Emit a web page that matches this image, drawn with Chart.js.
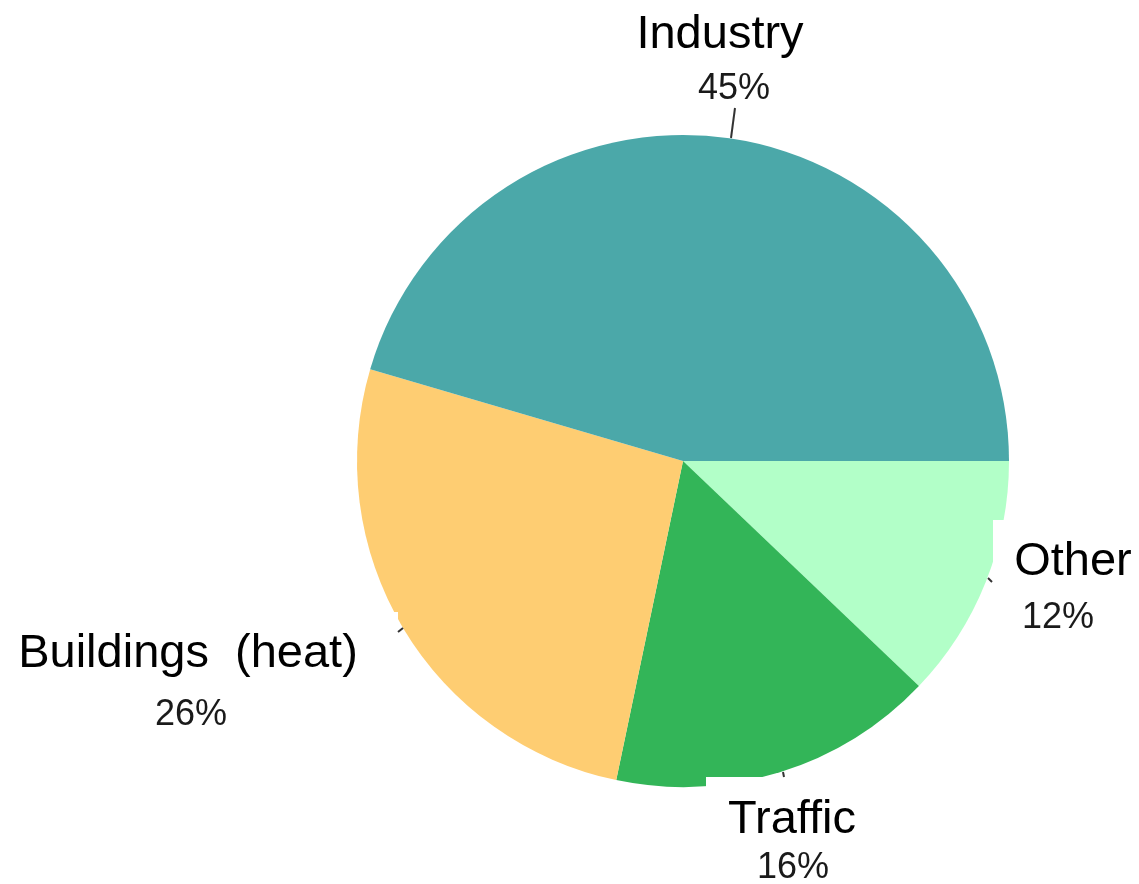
<!DOCTYPE html>
<html>
<head>
<meta charset="utf-8">
<script src="https://cdn.jsdelivr.net/npm/chart.js@4/dist/chart.umd.min.js"></script>
<style>
html,body{margin:0;padding:0;background:#fff;}
canvas{display:block;}
</style>
</head>
<body>
<canvas id="c" width="1139" height="884"></canvas>
<script>
// Data (clockwise from 3 o'clock)
const categories = ["Other", "Traffic", "Buildings  (heat)", "Industry"];
const values = [12, 16, 26, 45];
const percentLabels = ["12%", "16%", "26%", "45%"];
const colors = ["#B2FFC8", "#33B558", "#FECD72", "#4BA8A9"];

// Label layout: offsets (px) from pie centre for name and percent text
const labelLayout = [
  {name:[390, 114], pct:[375, 167]},
  {name:[109, 372], pct:[110, 417]},
  {name:[-495, 206], pct:[-492, 264]},
  {name:[37, -413], pct:[51, -362]}
];
// White patches behind some labels (as in the source image)
const patches = [
  [993, 520, 146, 75],
  [706, 777, 174, 107],
  [0, 612, 398, 70]
];
// Short leader ticks [x1,y1,x2,y2] relative to centre
const ticks = [
  [305, 117, 309, 121],
  [100, 311, 101, 316],
  [-285, 171, -280, 167],
  [52, -353, 48, -323]
];

const labelPlugin = {
  id: 'labels',
  afterDatasetsDraw(chart) {
    const ctx = chart.ctx;
    const arc = chart.getDatasetMeta(0).data[0];
    const cx = arc.x, cy = arc.y;
    ctx.save();
    ctx.fillStyle = '#fff';
    patches.forEach(p => ctx.fillRect(p[0], p[1], p[2], p[3]));
    ctx.strokeStyle = '#333';
    ctx.lineWidth = 2;
    ticks.forEach(t => {
      ctx.beginPath();
      ctx.moveTo(cx + t[0], cy + t[1]);
      ctx.lineTo(cx + t[2], cy + t[3]);
      ctx.stroke();
    });
    ctx.textAlign = 'center';
    ctx.textBaseline = 'alphabetic';
    categories.forEach((c, i) => {
      const L = labelLayout[i];
      ctx.fillStyle = '#000';
      ctx.font = '47px "Liberation Sans", Arial, sans-serif';
      ctx.fillText(c, cx + L.name[0], cy + L.name[1]);
      ctx.fillStyle = '#1a1a1a';
      ctx.font = '36px "Liberation Sans", Arial, sans-serif';
      ctx.fillText(percentLabels[i], cx + L.pct[0], cy + L.pct[1]);
    });
    ctx.restore();
  }
};

new Chart(document.getElementById('c'), {
  type: 'pie',
  data: {
    labels: categories,
    datasets: [{
      data: values,
      backgroundColor: colors,
      borderWidth: 0
    }]
  },
  options: {
    responsive: false,
    devicePixelRatio: 1,
    animation: false,
    rotation: 90,
    layout: { padding: { top: 135, bottom: 97, left: 357, right: 130 } },
    plugins: { legend: { display: false }, tooltip: { enabled: false } }
  },
  plugins: [labelPlugin]
});
</script>
</body>
</html>
